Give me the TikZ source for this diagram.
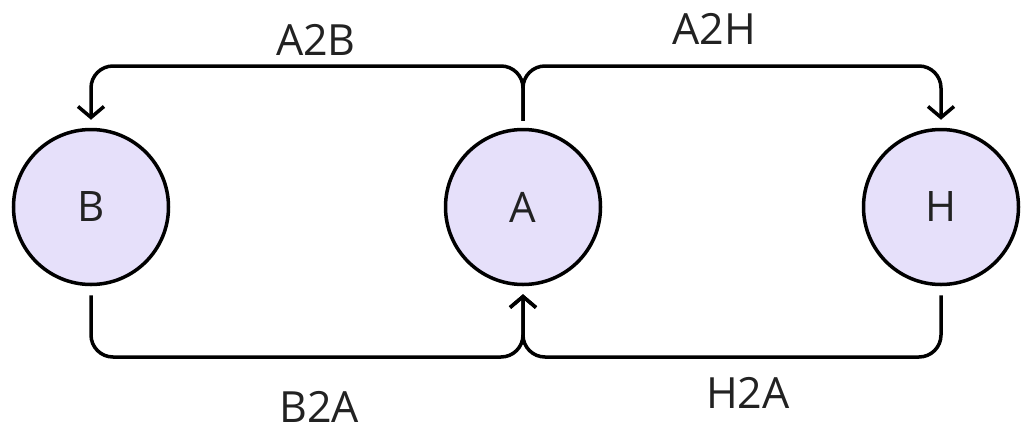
\documentclass[tikz,border=0pt]{standalone}
\usepackage{fontspec}
\setmainfont{Open Sans}
\usetikzlibrary{arrows.meta}
\definecolor{nodefill}{HTML}{E6E0FA}
\definecolor{txt}{HTML}{222222}
\tikzset{
  state/.style={circle, draw=black, line width=3.5pt, fill=nodefill, minimum size=155pt, inner sep=0pt, font=\fontsize{42}{48}\selectfont, text=txt},
  lbl/.style={font=\fontsize{43}{48}\selectfont, text=txt, inner sep=0pt},
  conn/.style={line width=3.5pt, rounded corners=22pt, -{Straight Barb[length=11pt,width=26pt,line width=3.5pt]}},
}
\begin{document}
\begin{tikzpicture}[x=1pt,y=-1pt]
\useasboundingbox (0,0) rectangle (1034,432);
\node[state] (B) at (91,207) {B};
\node[state] (A) at (523,207) {A};
\node[state] (H) at (941,207) {H};
\coordinate (tB) at (91,66);
\coordinate (tH) at (941,66);
\coordinate (bA) at (523,357);
\draw[conn, shorten <=7pt, shorten >=8pt] (A.north) |- (tB) -- (B.north);
\draw[conn, shorten <=7pt, shorten >=8pt] (A.north) |- (tH) -- (H.north);
\draw[conn, shorten <=9pt, shorten >=8pt] (B.south) |- (bA) -- (A.south);
\draw[conn, shorten <=9pt, shorten >=8pt] (H.south) |- (bA) -- (A.south);
\node[lbl] (lA2B) at (316,40) {A2B};
\node[lbl] (lA2H) at (714,29) {A2H};
\node[lbl] (lB2A) at (319,407) {B2A};
\node[lbl] (lH2A) at (748,393) {H2A};
\end{tikzpicture}
\end{document}
